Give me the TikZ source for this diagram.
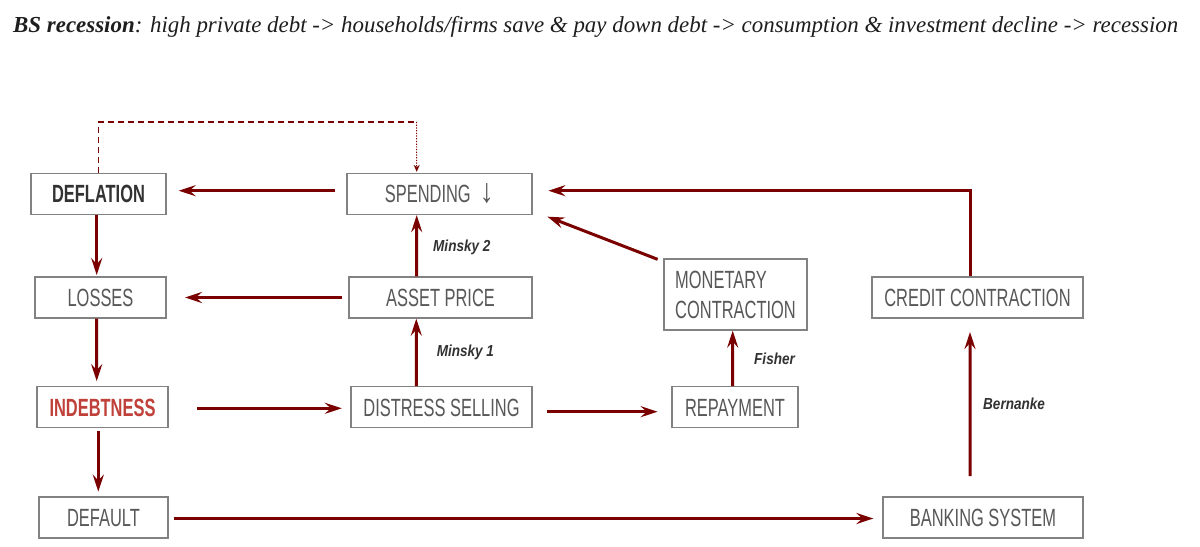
\documentclass[tikz,border=0pt]{standalone}
\usepackage{fontspec}
\setmainfont{Liberation Serif}
\newfontfamily\cond[FakeStretch=0.66]{Liberation Sans}
\newfontfamily\labfont[FakeStretch=0.85]{Liberation Sans}
\newfontfamily\arrfont[FakeStretch=0.85]{Liberation Sans}
\usetikzlibrary{arrows.meta}
\definecolor{arrred}{RGB}{122,0,0}
\definecolor{boxgray}{RGB}{130,130,130}
\definecolor{txtgray}{RGB}{88,88,88}
\definecolor{darktxt}{RGB}{50,50,50}
\definecolor{indred}{RGB}{192,64,58}
\definecolor{titlegray}{RGB}{30,30,30}
\begin{document}
\begin{tikzpicture}[x=1bp,y=-1bp,
  box/.style={draw=boxgray, line width=1.3bp, inner sep=0pt, minimum height=41bp,
    text=txtgray, font=\cond\fontsize{25}{30}\selectfont},
  onel/.style={text height=17.9bp, text depth=0pt},
  arr/.style={draw=arrred, line width=3bp, -{Stealth[length=17bp,width=11bp,inset=6bp]}},
  dashline/.style={draw=arrred, line width=1.5bp, dash pattern=on 6bp off 4bp},
  dotline/.style={draw=arrred, line width=1bp, dash pattern=on 1.2bp off 1.5bp, -{Stealth[length=7bp,width=6bp]}},
  lab/.style={font=\labfont\bfseries\itshape\fontsize{16}{19}\selectfont, text=darktxt, anchor=west, inner sep=0pt},
]
\useasboundingbox (0,0) rectangle (1200,547);
\fill[white] (0,0) rectangle (1200,547);

\node[anchor=base west, inner sep=0pt, font=\fontsize{23}{28}\selectfont, text=titlegray] (title) at (13,32.5)
  {\textbf{\textit{BS recession}}\textit{: high private debt -> households/firms save \& pay down debt -> consumption \& investment decline -> recession}};

\node[box, onel, minimum width=135bp, text=darktxt] (defl) at (98.5,194) {\bfseries DEFLATION};
\node[box, onel, minimum width=185bp] (sp) at (439.5,194) {SPENDING\hspace{9bp}{\arrfont\fontsize{34}{30}\selectfont ↓}};
\node[box, onel, minimum width=131bp] (loss) at (100.5,297.5) {LOSSES};
\node[box, onel, minimum width=183bp] (asset) at (440.5,297.5) {ASSET PRICE};
\node[box, minimum width=143bp, minimum height=71bp, align=left] (mon) at (735.5,294.5) {MONETARY\\CONTRACTION};
\node[box, onel, minimum width=211bp] (cred) at (977.5,297.5) {CREDIT CONTRACTION};
\node[box, onel, minimum width=131bp, text=indred] (ind) at (102.5,407.3) {\bfseries INDEBTNESS};
\node[box, onel, minimum width=181bp] (dist) at (441.5,407.3) {DISTRESS SELLING};
\node[box, onel, minimum width=126bp] (rep) at (735,407.3) {REPAYMENT};
\node[box, onel, minimum width=129bp] (def) at (103.5,517.5) {DEFAULT};
\node[box, onel, minimum width=200bp] (bank) at (983,517.5) {BANKING SYSTEM};

\coordinate (dc) at (416.7,122);
\draw[dashline] ([xshift=0.2bp]defl.north) |- (dc);
\draw[dotline] (dc) -- ([xshift=-22.8bp,yshift=1bp]sp.north);

\draw[arr] ([xshift=-11bp,yshift=3.3bp]sp.west) -- ([xshift=12bp,yshift=3.3bp]defl.east);
\draw[arr] ([xshift=-1.8bp]defl.south) -- ([xshift=-3.8bp,yshift=1.3bp]loss.north);
\draw[arr] ([xshift=-6.3bp]asset.west) -- ([xshift=18.3bp]loss.east);
\draw[arr] ([xshift=-3.8bp]loss.south) -- ([xshift=-5.8bp,yshift=5bp]ind.north);
\draw[arr] ([xshift=-4.2bp,yshift=-3bp]ind.south) -- ([xshift=-5.2bp,yshift=4.7bp]def.north);
\draw[arr] ([xshift=28.5bp,yshift=-1bp]ind.east) -- ([xshift=-8.5bp,yshift=-1bp]dist.west);
\draw[arr] ([xshift=-25.2bp]dist.north) -- node[lab, pos=0.5, xshift=19bp] {Minsky 1} ([xshift=-24.2bp]asset.south);
\draw[arr] ([xshift=-23.8bp]asset.north) -- node[lab, pos=0.48, xshift=15bp] {Minsky 2} ([xshift=-22.8bp]sp.south);
\draw[arr] ([xshift=14bp,yshift=-4.4bp]dist.east) -- ([xshift=-13.7bp,yshift=-4.4bp]rep.west);
\draw[arr] ([xshift=-2.3bp]rep.north) -- node[lab, pos=0.5, xshift=20bp] {Fisher} ([xshift=-2.8bp]mon.south);
\draw[arr] ([xshift=-5.7bp,yshift=-1bp]mon.north west) -- ([xshift=14.7bp,yshift=-1.5bp]sp.south east);
\draw[arr] ([xshift=-7.5bp]cred.north) |- ([xshift=15.7bp,yshift=3.3bp]sp.east);
\draw[arr] ([xshift=-13bp,yshift=20.3bp]bank.north) -- node[lab, pos=0.5, xshift=11.7bp] {Bernanke} ([xshift=-7.5bp,yshift=-13.4bp]cred.south);
\draw[arr] ([xshift=5bp,yshift=-1bp]def.east) -- ([xshift=-9bp,yshift=-1bp]bank.west);
\end{tikzpicture}
\end{document}
